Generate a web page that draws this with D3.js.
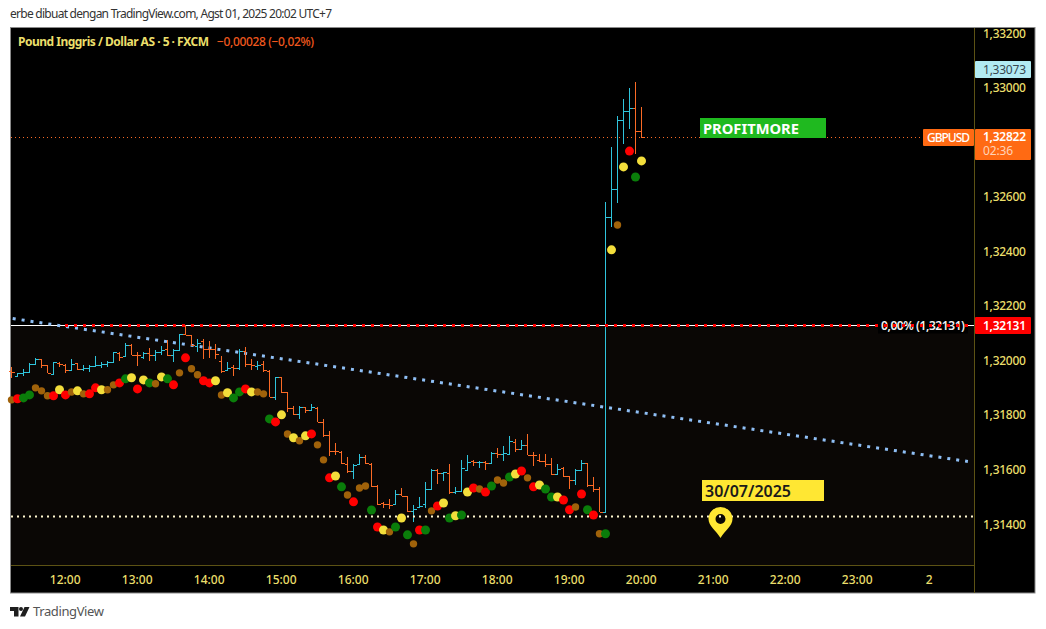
<!DOCTYPE html>
<html><head><meta charset="utf-8">
<script src="https://cdnjs.cloudflare.com/ajax/libs/d3/7.9.0/d3.min.js"></script>
<style>html,body{margin:0;padding:0;background:#fff}svg{display:block}text{font-family:"Noto Sans",sans-serif}</style>
</head><body><svg id="c" width="1046" height="629"></svg>
<script>
const firstBarTime = "2025-08-01T11:15:00";
const barOpen = [131962,131944,131955,131959,131989,132007,131983,131952,131993,131985,131968,131992,131971,131973,131982,131983,131989,131995,132029,132018,132059,132022,132014,132029,132022,132033,132044,132022,132040,132097,132095,132056,132072,132044,132044,
132001,131967,131977,131973,132035,131987,131982,131987,131963,131867,131940,131885,131828,131806,131830,131818,131828,131775,131727,131671,131665,131620,131595,131620,131649,131622,131540,131477,131476,131476,131510,131506,131451,131463,131475,131530,131601,131589,131589,131519,131521,131601,131632,131628,131629,131626,131662,131658,131660,131704,131677,131693,131656,131637,131632,131622,131585,131607,131577,131563,131598,131625,131544,131530,131447,132528,132630,132883,132916,132927,132843];
const barHigh = [131977,131956,131971,131992,132010,132007,131985,131996,131996,131987,132005,131993,131983,131983,132016,131995,132001,132034,132032,132067,132060,132034,132034,132048,132038,132053,132075,132044,132099,132130,132095,132081,132081,132071,132062,
132016,131994,131983,132045,132050,132005,131998,131998,131965,131942,131942,131887,131834,131836,131832,131840,131830,131787,131744,131698,131671,131647,131620,131659,131653,131625,131543,131484,131495,131525,131535,131506,131473,131500,131555,131605,131604,131594,131620,131537,131638,131656,131638,131634,131634,131667,131682,131686,131726,131714,131708,131732,131667,131659,131659,131642,131620,131612,131579,131604,131637,131625,131573,131537,132581,132783,132899,132961,133002,133024,132930];
const barLow = [131938,131944,131946,131959,131983,131973,131955,131952,131977,131955,131965,131968,131962,131959,131981,131973,131977,131995,132001,132017,132021,131981,132007,132001,131999,132020,132016,131995,132038,132093,132056,132032,132005,132011,132007,
131955,131965,131946,131968,131977,131968,131965,131958,131867,131855,131883,131812,131801,131786,131810,131816,131775,131720,131650,131656,131622,131588,131566,131617,131622,131537,131471,131459,131456,131473,131505,131445,131408,131461,131460,131528,131549,131561,131510,131510,131518,131598,131616,131607,131601,131625,131643,131634,131653,131665,131675,131653,131616,131628,131610,131583,131583,131573,131530,131546,131595,131537,131518,131445,131445,132490,132578,132795,132849,132758,132816];
const barClose = [131959,131955,131959,131989,132007,131983,131956,131994,131987,131965,131989,131971,131974,131981,131983,131989,131995,132032,132014,132059,132022,132020,132029,132022,132034,132040,132022,132038,132097,132095,132059,132065,132044,132043,132026,
131962,131974,131974,132035,131987,131983,131984,131965,131869,131940,131885,131828,131806,131832,131818,131830,131776,131727,131671,131669,131625,131595,131619,131649,131625,131540,131476,131476,131473,131510,131506,131449,131457,131466,131530,131601,131589,131592,131519,131521,131606,131628,131628,131629,131626,131662,131659,131661,131705,131675,131693,131656,131653,131632,131622,131585,131603,131577,131563,131598,131625,131544,131530,131447,132528,132630,132883,132916,132927,132843,132822];
const dotValue = [131857,131861,131864,131875,131901,131890,131872,131872,131894,131875,131886,131890,131879,131879,131901,131894,131894,131912,131919,131934,131938,131897,131930,131919,131916,131941,131934,131912,131956,132011,131971,131949,131927,131919,131927,
131875,131883,131864,131886,131897,131886,131886,131879,131787,131776,131802,131732,131718,131707,131725,131732,131692,131637,131571,131578,131538,131508,131483,131534,131541,131453,131391,131380,131373,131391,131424,131362,131329,131380,131380,131450,131468,131479,131424,131432,131435,131519,131534,131530,131519,131541,131563,131552,131574,131585,131596,131571,131538,131545,131530,131501,131501,131490,131454,131464,131512,131454,131435,131366,131366,132407,132498,132711,132769,132674,132733];
const dotKind = ("brggbbbryrbybrrybbrgyrygbygrbrbbrry"+"byggrybbgrybybyrbbrygbrbbgrybgygbr"+"gbrygygyrbrgbbgyrbryggyrrbrgrbgybyrgy").split("");
const yTicks = [1.332,1.33,1.326,1.324,1.322,1.32,1.318,1.316,1.314];
const timeTicks = [12,13,14,15,16,17,18,19,20,21,22,23,24];
const trendTimes = ["2025-08-01T11:16:00","2025-08-02T00:32:00"];
const trendPrices = [1.32155,1.31631];
const fibPrice = 1.32131, supportPrice = 1.3143, lastPrice = 1.32822, highlightPrice = 1.33073;
const title = "Pound Inggris / Dollar AS · 5 · FXCM", change = "−0,00028 (−0,02%)";
const header = "erbe dibuat dengan TradingView.com, Agst 01, 2025 20:02 UTC+7";

const P = {l:11,r:974,t:28,b:565,R:1035,B:593};
const base = new Date("2025-08-01T12:00:00");
const hourMs = 3600000;
const x = d3.scaleTime().domain([base,new Date(+base+12*hourMs)]).range([65.5,929.5]);
const y = d3.scaleLinear().domain([1.332,1.314]).range([33.5,524.5]);
const crisp = v=>Math.floor(v)+.5;
const svg = d3.select("#c");
const fmt = d3.format(".5f"), comma = v=>fmt(v).replace(".",",");
const t0 = new Date(firstBarTime);
const bars = barOpen.map((o,i)=>({t:new Date(+t0+i*300000),o:o/1e5,h:barHigh[i]/1e5,l:barLow[i]/1e5,c:barClose[i]/1e5}));
const dots = dotValue.map((v,i)=>({t:bars[i].t,v:v/1e5,k:dotKind[i]}));
const dotColor = {r:"#ff0000",y:"#f3de3b",g:"#0a7d0a",b:"#a0620a"};
const UP="#2fc4dc",DN="#fb6a25",GOLD="#ebdf6b",AX="#5c5214";

svg.append("text").attr("x",10).attr("y",18).attr("font-size",12).attr("fill","#333").attr("textLength",322).text(header);
svg.append("rect").attr("x",10.5).attr("y",27.5).attr("width",P.R-10.5).attr("height",P.B-27.5).attr("fill","#000").attr("stroke","#8a8a8a");
svg.append("rect").attr("x",P.l).attr("y",crisp(y(fibPrice))).attr("width",P.r-P.l).attr("height",P.b-crisp(y(fibPrice))).attr("fill","#0a0705");
svg.append("line").attr("x1",P.r+.5).attr("x2",P.r+.5).attr("y1",28).attr("y2",P.B).attr("stroke",AX);
svg.append("line").attr("x1",P.l).attr("x2",P.r).attr("y1",P.b+.5).attr("y2",P.b+.5).attr("stroke",AX);

const yAxis = d3.axisRight(y).tickValues(yTicks).tickSize(0).tickFormat(comma);
const ga = svg.append("g").attr("transform",`translate(983,-0.7)`).call(yAxis);
ga.select(".domain").remove();
ga.selectAll("text").attr("x",0).attr("fill",GOLD).attr("font-size",12).attr("font-weight",500).attr("dy","0.35em").attr("letter-spacing","-0.25px");

const xAxis = d3.axisBottom(x).tickValues(timeTicks.map(h=>new Date(+base+(h-12)*hourMs))).tickSize(0)
  .tickFormat(d=>d.getDate()===2?"2":d3.timeFormat("%H:%M")(d));
const gx = svg.append("g").attr("transform",`translate(-0.8,${P.b+10})`).call(xAxis);
gx.select(".domain").remove();
gx.selectAll("text").attr("y",0).attr("dy","0.71em").attr("fill",GOLD).attr("font-size",12).attr("font-weight",500);

// level lines
const lastY = Math.round(y(lastPrice))+.5;
svg.append("line").attr("x1",P.l).attr("x2",923).attr("y1",lastY).attr("y2",lastY).attr("stroke",DN).attr("stroke-dasharray","1 3").attr("shape-rendering","crispEdges");
const fibY = crisp(y(fibPrice));
svg.append("line").attr("x1",P.l).attr("x2",P.r).attr("y1",fibY).attr("y2",fibY).attr("stroke","#fff").attr("shape-rendering","crispEdges");
svg.append("rect").attr("x",878).attr("y",fibY-8).attr("width",90).attr("height",16).attr("fill","#000");

// trend
const trend = d3.line().x(d=>x(new Date(d.t))).y(d=>y(d.p));
svg.append("path").attr("d",trend(trendTimes.map((t,i)=>({t,p:trendPrices[i]})))).attr("fill","none").attr("stroke","#8fbff5").attr("stroke-width",3).attr("stroke-dasharray","3 6");

// bars
const gb = svg.append("g").attr("shape-rendering","crispEdges");
bars.forEach(b=>{
  const X=Math.round(x(b.t)-.5)+.5, col=b.c>=b.o?UP:DN;
  gb.append("line").attr("x1",X).attr("x2",X).attr("y1",y(b.h)).attr("y2",y(b.l)).attr("stroke",col);
  gb.append("line").attr("x1",X-3).attr("x2",X).attr("y1",Math.round(y(b.o))+.5).attr("y2",Math.round(y(b.o))+.5).attr("stroke",col);
  gb.append("line").attr("x1",X).attr("x2",X+3).attr("y1",Math.round(y(b.c))+.5).attr("y2",Math.round(y(b.c))+.5).attr("stroke",col);
});

// support dotted
svg.append("line").attr("x1",P.l).attr("x2",P.r).attr("y1",Math.round(y(supportPrice))+.5).attr("y2",Math.round(y(supportPrice))+.5).attr("stroke","#fff8d0").attr("stroke-width",2).attr("stroke-dasharray","2 4");

// dots
svg.append("g").selectAll("circle").data(dots).join("circle")
  .attr("cx",d=>x(d.t)).attr("cy",d=>y(d.v)).attr("r",d=>d.k==="b"?3.7:4.5).attr("fill",d=>dotColor[d.k]);

// fib label + red dots
svg.append("text").attr("x",881).attr("y",fibY+4).attr("font-size",12).attr("font-weight",600).attr("fill","#f2f2f2").attr("textLength",84).text("0,00% (1,32131)");
svg.append("line").attr("x1",65).attr("x2",P.r).attr("y1",fibY).attr("y2",fibY).attr("stroke","#ff0000").attr("stroke-width",3).attr("stroke-dasharray","3 6").attr("shape-rendering","crispEdges");

// title
svg.append("text").attr("x",18).attr("y",46).attr("font-size",12).attr("font-weight",700).attr("fill",GOLD).attr("textLength",191).text(title);
svg.append("text").attr("x",217).attr("y",46).attr("font-size",12).attr("font-weight",500).attr("fill","#f0581e").attr("textLength",97).text(change);

// annotations
svg.append("rect").attr("x",700).attr("y",118).attr("width",126).attr("height",20).attr("fill","#1fb91f");
svg.append("text").attr("x",703).attr("y",133.5).attr("font-size",14.7).attr("font-weight",700).attr("fill","#fff").text("PROFITMORE");
svg.append("rect").attr("x",702).attr("y",480).attr("width",122).attr("height",21).attr("fill","#ffe733");
svg.append("text").attr("x",705).attr("y",496.5).attr("font-size",16).attr("font-weight",600).attr("fill","#1a1a1a").text("30/07/2025");
const pinX=720.5,pinY=519;
svg.append("path").attr("fill","#ffe733").attr("fill-rule","evenodd")
 .attr("d",`M${pinX},${pinY+19} C${pinX-4},${pinY+12} ${pinX-12},${pinY+7} ${pinX-12},${pinY} A12,12 0 1 1 ${pinX+12},${pinY} C${pinX+12},${pinY+7} ${pinX+4},${pinY+12} ${pinX},${pinY+19} Z M${pinX-5},${pinY} a5,5 0 1 0 10,0 a5,5 0 1 0 -10,0 Z`);

// price labels
function box(x0,yy,w,h,fill){svg.append("rect").attr("x",x0).attr("y",yy).attr("width",w).attr("height",h).attr("fill",fill).attr("rx",1);}
function lab(x0,yy,s,fill,w,len){const t=svg.append("text").attr("x",x0).attr("y",yy).attr("font-size",12).attr("font-weight",w||500).attr("fill",fill).text(s);if(len)t.attr("textLength",len);}
box(975,61,56,17,"#b2ebf2"); lab(983,73.5,comma(highlightPrice),"#37474f",400,43);
box(923,129,51,17,"#ff6a13"); lab(927,141.5,"GBPUSD","#fff",500,43);
box(975,129,56,31,"#ff6a13"); lab(983,141,comma(lastPrice),"#fff",600,43); lab(983,155,"02:36","#ffd3b8",400,30);
box(975,317,56,17,"#ff0000"); lab(983,329.5,comma(fibPrice),"#fff",600,43);

// logo
const lg=svg.append("g").attr("fill","#1e1e1e");
lg.append("path").attr("d","M10,607 H18.5 V616.5 H14 V611 H10 Z M24.5,607 H29.5 L25,616.5 H20 Z");
lg.append("circle").attr("cx",21).attr("cy",609).attr("r",2);
svg.append("text").attr("x",33).attr("y",616).attr("font-size",13).attr("fill","#555").attr("textLength",71).text("TradingView");
</script></body></html>
